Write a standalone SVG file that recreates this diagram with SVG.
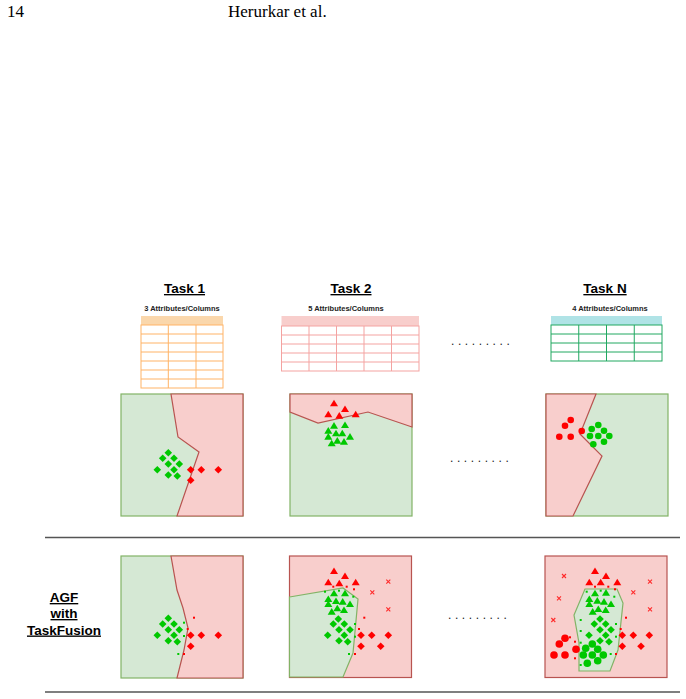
<svg xmlns="http://www.w3.org/2000/svg" xmlns:xlink="http://www.w3.org/1999/xlink" width="686" height="699" viewBox="0 0 686 699">
<style>
.hdr{font-family:"Liberation Serif","Times New Roman",serif;font-size:17px;fill:#000}
.title{font-family:"Liberation Sans",Arial,sans-serif;font-size:13.5px;font-weight:bold;text-decoration:underline;fill:#000;text-anchor:middle}
.sub{font-family:"Liberation Sans",Arial,sans-serif;font-size:7.5px;font-weight:bold;fill:#222;text-anchor:middle}
.dots{font-family:"Liberation Sans",Arial,sans-serif;font-size:12px;fill:#222;letter-spacing:3.6px}
.gbg{fill:#d5e8d4;stroke:#82b366;stroke-width:1.2}
.rbg{fill:#f8cecc;stroke:#b85450;stroke-width:1.2}
.r{fill:#ff0000}
.g{fill:#00c800}
.x{stroke:#ff2a2a;stroke-width:1.1;fill:none}
.sep{stroke:#555;stroke-width:1.3}
.t1{stroke:#ffb366;stroke-width:1;fill:#fff}
.t2{stroke:#f4a3a1;stroke-width:1;fill:#fff}
.t3{stroke:#20a860;stroke-width:1;fill:#fff}
</style>
<defs>
<path id="dm" d="M0,-3.8 L3.8,0 L0,3.8 L-3.8,0Z"/>
<path id="tr" d="M0,-3.6 L4,3 L-4,3Z"/>
<circle id="ci" r="3.3"/>
<circle id="cb" r="3.8"/>
<rect id="pt" x="-1" y="-1" width="2" height="2"/>
<path id="xm" d="M-2,-2 L2,2 M-2,2 L2,-2"/>
</defs>
<rect width="686" height="699" fill="#fff"/>
<text class="hdr" x="7" y="17">14</text>
<text class="hdr" x="228" y="17">Herurkar et al.</text>

<g id="task1-header">
<text class="title" x="184.5" y="293">Task 1</text>
<text class="sub" x="182" y="311">3 Attributes/Columns</text>
</g>
<g id="table1">
<rect x="141" y="316" width="82" height="9" fill="#fad7ac"/>
<rect class="t1" x="141" y="325" width="82" height="63"/>
<path class="t1" d="M141,334H223M141,343H223M141,352H223M141,361H223M141,370H223M141,379H223M168.3,325V388M196,325V388"/>
</g>

<g id="task2-header">
<text class="title" x="351" y="293">Task 2</text>
<text class="sub" x="346" y="311">5 Attributes/Columns</text>
</g>
<g id="table2">
<rect x="281.5" y="316" width="137.5" height="10" fill="#f8cecc"/>
<rect class="t2" x="281.5" y="326" width="137.5" height="45"/>
<path class="t2" d="M281.5,335H419M281.5,344H419M281.5,353H419M281.5,362H419M309,326V371M336.5,326V371M364,326V371M391.5,326V371"/>
</g>

<g id="taskN-header">
<text class="title" x="605" y="293">Task N</text>
<text class="sub" x="610" y="311">4 Attributes/Columns</text>
</g>
<g id="tableN">
<rect x="551" y="316" width="111" height="9" fill="#b0e3e6"/>
<rect class="t3" x="551" y="325" width="111" height="36"/>
<path class="t3" d="M551,334H662M551,343H662M551,352H662M578.75,325V361M606.5,325V361M634.25,325V361"/>
</g>

<text class="dots" x="451" y="345">.........</text>
<text class="dots" x="450" y="462">.........</text>
<text class="dots" x="448" y="619">.........</text>

<g id="panel-task1">
<rect class="gbg" x="121" y="394" width="122" height="122"/>
<polygon class="rbg" points="171,394 243,394 243,516 177,516 199,452 178,437"/>
<g class="g">
<use href="#dm" x="168.3" y="452.7"/><use href="#dm" x="162.7" y="458.3"/><use href="#dm" x="174" y="458.3"/>
<use href="#dm" x="168.3" y="464"/><use href="#dm" x="179.3" y="464"/><use href="#dm" x="157.3" y="469.7"/>
<use href="#dm" x="174" y="469.7"/><use href="#dm" x="168.3" y="475"/><use href="#dm" x="177.3" y="476"/>
</g>
<g class="r">
<use href="#dm" x="190.7" y="469.7"/><use href="#dm" x="201.3" y="469.7"/><use href="#dm" x="218.3" y="469.7"/><use href="#dm" x="190.7" y="480.3"/>
</g>
</g>

<g id="panel-task2">
<rect class="gbg" x="290" y="394" width="122" height="122"/>
<polygon class="rbg" points="290,394 412,394 412,427 368,412 318,423 290,412"/>
<g class="r">
<use href="#tr" x="334" y="403.3"/><use href="#tr" x="345" y="409"/><use href="#tr" x="328.3" y="414.3"/><use href="#tr" x="339.3" y="415.7"/><use href="#tr" x="355.7" y="414.3"/>
</g>
<g class="g">
<use href="#tr" x="334" y="425.7"/><use href="#tr" x="345" y="425"/><use href="#tr" x="328.3" y="430.7"/><use href="#tr" x="336" y="433.3"/>
<use href="#tr" x="342.3" y="433.3"/><use href="#tr" x="328.3" y="436.7"/><use href="#tr" x="350" y="436.7"/><use href="#tr" x="337.3" y="440.7"/>
<use href="#tr" x="344" y="441.7"/><use href="#tr" x="331.7" y="443.3"/>
</g>
</g>

<g id="panel-taskN">
<rect class="gbg" x="546" y="394" width="122" height="122"/>
<polygon class="rbg" points="546,394 596,394 580,434 602,456 573,516 546,516"/>
<g class="r">
<use href="#ci" x="570.7" y="420"/><use href="#ci" x="565" y="425.7"/><use href="#ci" x="559.3" y="436.7"/><use href="#ci" x="570.7" y="436.7"/><use href="#ci" x="581.7" y="431"/>
</g>
<g class="g">
<use href="#ci" x="591.7" y="429"/><use href="#ci" x="598.3" y="425"/><use href="#ci" x="604" y="430.7"/><use href="#ci" x="590" y="436"/>
<use href="#ci" x="598.3" y="436"/><use href="#ci" x="609.3" y="436"/><use href="#ci" x="604" y="441.7"/><use href="#ci" x="593.3" y="444.3"/>
</g>
</g>

<g id="separators">
<line class="sep" x1="45" y1="537.5" x2="680" y2="537.5"/>
<line class="sep" x1="45" y1="692" x2="680" y2="692"/>
</g>

<g id="agf-label">
<text class="title" x="64" y="602">AGF</text>
<text class="title" x="64" y="618">with</text>
<text class="title" x="64" y="634.5">TaskFusion</text>
</g>

<g id="agf-task1">
<rect class="gbg" x="121" y="556" width="122" height="122"/>
<polygon class="rbg" points="171,556 243,556 243,678 177,678 184,650 188,628 183,608 177,590"/>
<g class="g">
<use href="#dm" x="168.3" y="618.3"/><use href="#dm" x="162.7" y="624"/><use href="#dm" x="174" y="624"/>
<use href="#dm" x="168.3" y="629.7"/><use href="#dm" x="179.3" y="629.7"/><use href="#dm" x="157.3" y="635.3"/>
<use href="#dm" x="174" y="635.3"/><use href="#dm" x="168.3" y="640.7"/><use href="#dm" x="177.3" y="641.7"/>
<use href="#pt" x="184" y="622.7"/><use href="#pt" x="184" y="636"/><use href="#pt" x="178.3" y="654"/>
</g>
<g class="r">
<use href="#dm" x="190.7" y="635.3"/><use href="#dm" x="201.3" y="635.3"/><use href="#dm" x="218.3" y="635.3"/><use href="#dm" x="190.7" y="646.3"/>
<use href="#pt" x="194" y="617.7"/><use href="#pt" x="187.7" y="629"/><use href="#pt" x="184" y="654"/>
</g>
</g>

<g id="agf-task2">
<rect class="rbg" x="289.5" y="556" width="122" height="121.5"/>
<polygon class="gbg" points="289.5,597 343,588 358,599 353,653 343,677 289.5,677"/>
<g class="r">
<use href="#tr" x="334" y="571"/><use href="#tr" x="345" y="576"/><use href="#tr" x="328.3" y="582.3"/><use href="#tr" x="339.3" y="583.3"/><use href="#tr" x="355.7" y="582.3"/>
<use href="#dm" x="361" y="635.3"/><use href="#dm" x="371.7" y="635.3"/><use href="#dm" x="388.3" y="635.3"/><use href="#dm" x="361" y="646.3"/><use href="#dm" x="380.7" y="646.3"/>
<use href="#pt" x="333.3" y="586.7"/><use href="#pt" x="346.7" y="586.7"/><use href="#pt" x="354" y="589.3"/><use href="#pt" x="364.3" y="617.7"/><use href="#pt" x="359" y="629"/><use href="#pt" x="355" y="654"/>
</g>
<g class="x">
<use href="#xm" x="388.3" y="581.7"/><use href="#xm" x="372.3" y="592.3"/><use href="#xm" x="388.3" y="609.3"/>
</g>
<g class="g">
<use href="#tr" x="334" y="593.3"/><use href="#tr" x="345" y="593.3"/><use href="#tr" x="328.3" y="599"/><use href="#tr" x="336" y="601"/>
<use href="#tr" x="342.7" y="601.7"/><use href="#tr" x="328.3" y="604"/><use href="#tr" x="350" y="604"/><use href="#tr" x="337.3" y="608.3"/>
<use href="#tr" x="344" y="610"/><use href="#tr" x="331.7" y="611.7"/>
<use href="#dm" x="338.3" y="619"/><use href="#dm" x="333.3" y="624"/><use href="#dm" x="344.3" y="624"/>
<use href="#dm" x="339" y="629.7"/><use href="#dm" x="350" y="629.7"/><use href="#dm" x="327.7" y="635.3"/>
<use href="#dm" x="344.3" y="635.3"/><use href="#dm" x="339" y="640.7"/><use href="#dm" x="347.7" y="641.7"/>
<use href="#pt" x="325" y="591.7"/><use href="#pt" x="339" y="590.7"/><use href="#pt" x="353.3" y="596.7"/><use href="#pt" x="355" y="624"/><use href="#pt" x="355" y="636.7"/><use href="#pt" x="349" y="654"/>
</g>
</g>

<g id="agf-taskN">
<rect class="rbg" x="545" y="556" width="122" height="121.5"/>
<polygon class="gbg" points="585,589 617,589 623,603 618,650 610,671 579,671 579,643 574,615"/>
<g class="r">
<use href="#tr" x="595" y="571"/><use href="#tr" x="606" y="576"/><use href="#tr" x="589.3" y="582.3"/><use href="#tr" x="600.7" y="582.3"/><use href="#tr" x="617.3" y="582.3"/>
<use href="#dm" x="622.3" y="635.3"/><use href="#dm" x="633.3" y="635.3"/><use href="#dm" x="649.3" y="635.3"/><use href="#dm" x="622.3" y="646.3"/><use href="#dm" x="641" y="646.3"/>
<use href="#cb" x="565" y="638.3"/><use href="#cb" x="559.3" y="644"/><use href="#cb" x="576" y="649.3"/><use href="#cb" x="554" y="655"/><use href="#cb" x="565" y="655"/>
<use href="#pt" x="595" y="586.7"/><use href="#pt" x="608.3" y="586.7"/><use href="#pt" x="615" y="589.3"/><use href="#pt" x="626" y="617.7"/><use href="#pt" x="620.7" y="629"/>
<use href="#pt" x="570" y="637.3"/><use href="#pt" x="575" y="641.7"/><use href="#pt" x="575" y="658.3"/><use href="#pt" x="616" y="654"/>
</g>
<g class="x">
<use href="#xm" x="564" y="576"/><use href="#xm" x="650" y="581.7"/><use href="#xm" x="559" y="598.3"/><use href="#xm" x="633.3" y="592.3"/><use href="#xm" x="650" y="609.3"/><use href="#xm" x="553.3" y="620"/>
</g>
<g class="g">
<use href="#tr" x="595" y="593.3"/><use href="#tr" x="606" y="592.7"/><use href="#tr" x="589.3" y="599"/><use href="#tr" x="597.3" y="600.7"/>
<use href="#tr" x="604" y="601.7"/><use href="#tr" x="589.3" y="604"/><use href="#tr" x="611" y="604"/><use href="#tr" x="592.7" y="611.7"/>
<use href="#tr" x="598.3" y="609"/><use href="#tr" x="605.7" y="610"/>
<use href="#dm" x="600" y="619"/><use href="#dm" x="594.3" y="624"/><use href="#dm" x="605.7" y="624"/>
<use href="#dm" x="600" y="629.7"/><use href="#dm" x="611" y="629.7"/><use href="#dm" x="589" y="635.3"/>
<use href="#dm" x="605.7" y="635.3"/><use href="#dm" x="600" y="640.7"/><use href="#dm" x="609" y="641.7"/>
<use href="#cb" x="592.3" y="644"/><use href="#cb" x="585.7" y="648.3"/><use href="#cb" x="597.7" y="649.3"/><use href="#cb" x="603.3" y="655"/>
<use href="#cb" x="583.3" y="655"/><use href="#cb" x="592.3" y="655"/><use href="#cb" x="597.7" y="660.7"/><use href="#cb" x="587.3" y="663.3"/>
<use href="#pt" x="586.7" y="591.7"/><use href="#pt" x="600.7" y="590.7"/><use href="#pt" x="614.3" y="596.7"/><use href="#pt" x="580.7" y="620"/>
<use href="#pt" x="616" y="624"/><use href="#pt" x="580.7" y="631"/><use href="#pt" x="616" y="636.7"/><use href="#pt" x="580.7" y="642.7"/>
<use href="#pt" x="580.7" y="665"/><use href="#pt" x="610.7" y="654"/>
</g>
</g>
</svg>
